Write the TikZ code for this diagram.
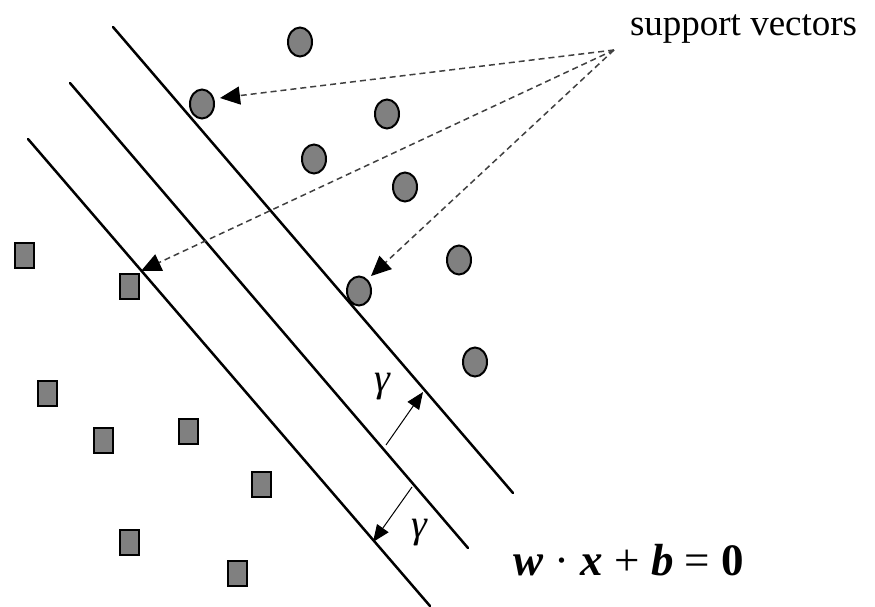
\documentclass[tikz,border=0pt]{standalone}
\usepackage{fontspec}
\setmainfont{Liberation Serif}
\usetikzlibrary{arrows.meta,shapes.geometric}
\begin{document}
\begin{tikzpicture}[x=1pt,y=-1pt,
  hyper/.style={line width=2.5pt,black,line cap=round},
  pt/.style={ellipse,draw=black,fill=black!50,line width=2pt,minimum width=24pt,minimum height=29pt,inner sep=0pt},
  sq/.style={rectangle,draw=black,fill=black!50,line width=2pt,minimum width=19pt,minimum height=25pt,inner sep=0pt},
  svarrow/.style={dashed,dash pattern=on 6pt off 4pt,line width=1.5pt,black!75,-{Triangle[length=20pt,width=18pt,color=black]}},
  garrow/.style={line width=1pt,black,-{Triangle[length=17pt,width=14pt]}},
  lbl/.style={inner sep=0pt,outer sep=0pt}]
\useasboundingbox (0,0) rectangle (875,606);
% hyperplanes
\coordinate (a1) at (113,27);  \coordinate (b1) at (513,493);
\coordinate (a2) at (70,83);   \coordinate (b2) at (468,548);
\coordinate (a3) at (28,139);  \coordinate (b3) at (430,606);
\draw[hyper] (a1) -- (b1);
\draw[hyper] (a2) -- (b2);
\draw[hyper] (a3) -- (b3);
% circles
\node[pt] (c1) at (300,42) {};
\node[pt] (c2) at (202,104) {};
\node[pt] (c3) at (387,114) {};
\node[pt] (c4) at (314,159) {};
\node[pt] (c5) at (405,187) {};
\node[pt] (c6) at (459,260) {};
\node[pt] (c7) at (359,291) {};
\node[pt] (c8) at (475,362) {};
% squares
\node[sq] (s1) at (24,255) {};
\node[sq] (s2) at (129,286) {};
\node[sq] (s3) at (47,393) {};
\node[sq] (s4) at (103,440) {};
\node[sq] (s5) at (188,431) {};
\node[sq] (s6) at (261,484) {};
\node[sq] (s7) at (129,542) {};
\node[sq] (s8) at (237,573) {};
% support vector label and arrows
\node[lbl,anchor=base west,font=\fontsize{37}{40}\selectfont] (sv) at (630,35) {support vectors};
\coordinate (src) at (614,50);
\coordinate (t1) at (220,98);
\coordinate (t2) at (141,271);
\coordinate (t3) at (371,276);
\draw[svarrow] (src) -- (t1);
\draw[svarrow] (src) -- (t2);
\draw[svarrow] (src) -- (t3);
% margin arrows
\coordinate (g1s) at (386,445); \coordinate (g1e) at (423,392);
\coordinate (g2s) at (412,487); \coordinate (g2e) at (373,542);
\draw[garrow] (g1s) -- (g1e);
\draw[garrow] (g2s) -- (g2e);
\node[lbl,font=\fontsize{40}{44}\selectfont\itshape] (gam1) at (382,387) {γ};
\node[lbl,font=\fontsize{40}{44}\selectfont\itshape] (gam2) at (419,533) {γ};
% equation
\node[lbl,anchor=base west,font=\fontsize{45}{48}\selectfont] (eq) at (513,575) {\textbf{\textit{w}} · \textbf{\textit{x}} + \textbf{\textit{b}} = \textbf{0}};
\end{tikzpicture}
\end{document}
